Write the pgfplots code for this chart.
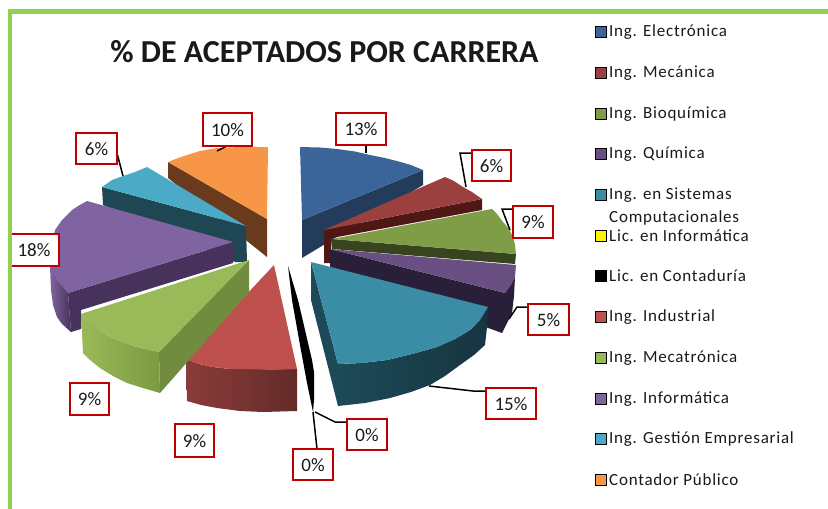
\documentclass[border=0pt]{standalone}
\usepackage{fontspec}
\setmainfont{Carlito}
\usepackage{pgfplots}
\pgfplotsset{compat=1.18}
\definecolor{frame}{HTML}{92D050}
\definecolor{lblred}{HTML}{C00000}
\definecolor{cBlue}{HTML}{3B6598}
\definecolor{cBlueD}{HTML}{233C5C}
\definecolor{cRed}{HTML}{9B403E}
\definecolor{cRedD}{HTML}{4F1815}
\definecolor{cGreen}{HTML}{7F9C47}
\definecolor{cGreenD}{HTML}{38431F}
\definecolor{cPur}{HTML}{6A4F82}
\definecolor{cPurD}{HTML}{2A1F38}
\definecolor{cTeal}{HTML}{3B8DA5}
\definecolor{cTealD}{HTML}{1D4A58}
\definecolor{cTealE}{HTML}{163540}
\definecolor{cInd}{HTML}{BE514E}
\definecolor{cIndL}{HTML}{8B3C3A}
\definecolor{cIndD}{HTML}{632B29}
\definecolor{cMeca}{HTML}{9AB958}
\definecolor{cMecaD}{HTML}{718B3F}
\definecolor{cMecaE}{HTML}{7C9A42}
\definecolor{cInf}{HTML}{8064A2}
\definecolor{cInfD}{HTML}{46325A}
\definecolor{cGes}{HTML}{4BAAC6}
\definecolor{cGesD}{HTML}{1F4653}
\definecolor{cCon}{HTML}{F79646}
\definecolor{cConD}{HTML}{693B1C}
\pgfplotsset{
  face/.style={draw=none,fill=#1,mark=none,forget plot},
  grad/.style 2 args={draw=none,left color=#1,right color=#2,mark=none,forget plot},
  leader/.style={draw=black,line width=1.5pt,mark=none,forget plot},
  lbl/.style={draw=lblred,line width=2.4pt,fill=white,mark=none,forget plot},
  key/.style={only marks,mark=square*,mark size=5.5pt,mark options={draw=none,fill=#1},forget plot},
}
\begin{document}
\begin{tikzpicture}
\begin{axis}[
  scale only axis, width=828pt, height=509pt,
  xmin=0, xmax=828, ymin=0, ymax=509, y dir=reverse,
  hide axis,
]
\path (axis cs:0,0) -- (axis cs:828,509);
% contador publico
\addplot[face=cConD] coordinates {(168,162) (267,219) (267,257) (168,178)} --cycle;
\addplot[face=cCon] coordinates {(168,162) (178,158) (187,155) (200,151) (217,148) (240,147) (268,147) (267,219)} --cycle;
% gestion empresarial
\addplot[face=cGesD] coordinates {(102,187) (246,226) (247,262) (235,262) (103,205)} --cycle;
\addplot[face=cGes] coordinates {(102,187) (112,180) (123,176) (135,172) (147,167) (246,226)} --cycle;
% ing informatica
\addplot[grad={cInf}{cInfD}] coordinates {(50,267) (68,293) (71,332) (62,324) (57,317) (53,305) (51,290)} --cycle;
\addplot[face=cInfD] coordinates {(68,293) (233,242) (233,263) (81,310) (81,329) (71,332)} --cycle;
\addplot[face=cInf] coordinates {(87,201) (78,206) (72,210) (62,220) (55,230) (51,248) (50,267) (57,280) (68,293) (233,242)} --cycle;
% electronica
\addplot[face=cBlueD] coordinates {(302,220) (423,170) (423,185) (302,258)} --cycle;
\addplot[face=cBlue] coordinates {(300,147) (320,147.5) (337,149) (355,151.5) (370,155) (385,158) (397,161) (411,165) (423,170) (302,220)} --cycle;
% mecanica
\addplot[face=cRedD] coordinates {(324,230) (482,199) (482,210) (332,238) (330,263) (324,263)} --cycle;
\addplot[face=cRed] coordinates {(324,230) (445,177) (454,181) (463,187) (472,192) (482,199)} --cycle;
% quimica
\addplot[face=cPurD] coordinates {(330,249) (505,293) (515,277) (514,296) (512,313) (502,333) (480,325) (330,270)} --cycle;
\addplot[face=cPur] coordinates {(330,249) (516,265) (515,277) (511,285) (505,293)} --cycle;
% bioquimica
\addplot[face=cGreenD] coordinates {(332,239) (332,249) (515,264) (516,254)} --cycle;
\addplot[face=cGreen] coordinates {(332,239) (492,209) (497,214) (503,222) (509,229) (513,237) (515,245) (516,254)} --cycle;
% sistemas
\addplot[face=cTealD] coordinates {(311,262) (338,364) (338,406) (311,300)} --cycle;
\addplot[grad={cTealD}{cTealE}] coordinates {(338,364) (362,363) (387,360) (412,354) (437,347) (455,339) (470,330) (480,320) (488,307) (487,327) (485,345) (474,355) (460,365) (445,376) (430,385) (411,392) (390,398) (365,403) (338,406)} --cycle;
\addplot[face=cTeal] coordinates {(311,262) (488,307) (480,320) (470,330) (455,339) (437,347) (412,354) (387,360) (362,363) (338,364)} --cycle;
% contaduria
\addplot[face=black] coordinates {(288,266) (298,300) (312,360) (314,372) (314,400) (313,412) (307,383) (300,345) (292,300)} --cycle;
% industrial
\addplot[grad={cIndL}{cIndD}] coordinates {(186,359) (199,364) (213,367) (230,369) (250,369) (297,369) (297,411) (263,412) (240,411) (217,408) (201,405) (187,401)} --cycle;
\addplot[face=cInd] coordinates {(274,265) (297,369) (272,370) (250,369) (230,369) (213,367) (199,364) (186,359)} --cycle;
% mecatronica
\addplot[face=cMecaD] coordinates {(249,260) (159,352) (160,393) (249,292)} --cycle;
\addplot[grad={cMeca}{cMecaE}] coordinates {(81,314) (88,321) (97,328) (107,335) (117,340) (137,347) (159,352) (160,393) (143,388) (127,383) (113,376) (100,368) (90,360) (83,353)} --cycle;
\addplot[face=cMeca] coordinates {(81,314) (249,260) (159,352) (137,347) (117,340) (107,335) (97,328) (88,321)} --cycle;

% lineas guia
\addplot[leader] coordinates {(366,145) (366,153)};
\addplot[leader] coordinates {(472,153) (460,153) (466,187)};
\addplot[leader] coordinates {(513,209) (502,209) (510,230)};
\addplot[leader] coordinates {(528,307) (517,307) (509,319)};
\addplot[leader] coordinates {(486,391) (473,391) (429,386)};
\addplot[leader] coordinates {(346,422) (335,422) (315,412)};
\addplot[leader] coordinates {(317,449) (313,412)};
\addplot[leader] coordinates {(117,153) (123,176)};
\addplot[leader] coordinates {(227,146) (217,151)};

% etiquetas
\addplot[lbl] coordinates {(203,113) (252,113) (252,146) (203,146)} --cycle;
\addplot[lbl] coordinates {(76,133) (117,133) (117,164) (76,164)} --cycle;
\addplot[lbl] coordinates {(10,234) (59,234) (59,266) (10,266)} --cycle;
\addplot[lbl] coordinates {(70,383) (109,383) (109,415) (70,415)} --cycle;
\addplot[lbl] coordinates {(336,113) (386,113) (386,145) (336,145)} --cycle;
\addplot[lbl] coordinates {(472,150) (511,150) (511,181) (472,181)} --cycle;
\addplot[lbl] coordinates {(513,206) (553,206) (553,238) (513,238)} --cycle;
\addplot[lbl] coordinates {(528,304) (569,304) (569,335) (528,335)} --cycle;
\addplot[lbl] coordinates {(486,388) (536,388) (536,419) (486,419)} --cycle;
\addplot[lbl] coordinates {(347,419) (387,419) (387,450) (347,450)} --cycle;
\addplot[lbl] coordinates {(293,449) (333,449) (333,480) (293,480)} --cycle;
\addplot[lbl] coordinates {(175,424) (214,424) (214,457) (175,457)} --cycle;

% marco
\addplot[draw=frame,line width=4.5pt,mark=none,forget plot] coordinates {(10,509) (10,11.5) (828,11.5)};

% leyenda
\addplot[key=cBlue] coordinates {(600.5,32)};
\addplot[key=cRed] coordinates {(600.5,73)};
\addplot[key=cGreen] coordinates {(600.5,114)};
\addplot[key=cPur] coordinates {(600.5,154)};
\addplot[key=cTeal] coordinates {(600.5,195)};
\addplot[key=yellow] coordinates {(600.5,236)};
\addplot[key=black] coordinates {(600.5,276)};
\addplot[key=cInd] coordinates {(600.5,317)};
\addplot[key=cMeca] coordinates {(600.5,358)};
\addplot[key=cInf] coordinates {(600.5,399)};
\addplot[key=cGes] coordinates {(600.5,439)};
\addplot[key=cCon] coordinates {(600.5,480)};

\node[font=\fontsize{32}{34}\selectfont\bfseries,text=black!90] at (axis cs:324.5,52) {\% DE ACEPTADOS POR CARRERA};

\begin{scope}[every node/.style={font=\fontsize{19}{21}\selectfont,text=black!90}]
\node at (axis cs:227.5,130) {10\%};
\node at (axis cs:96.5,149) {6\%};
\node at (axis cs:34,250) {18\%};
\node at (axis cs:89.5,399) {9\%};
\node at (axis cs:361,129) {13\%};
\node at (axis cs:491.5,166) {6\%};
\node at (axis cs:533,222) {9\%};
\node at (axis cs:548.5,320) {5\%};
\node at (axis cs:511,404) {15\%};
\node at (axis cs:367,435) {0\%};
\node at (axis cs:313,465) {0\%};
\node at (axis cs:194.5,441) {9\%};
\end{scope}

\begin{scope}[every node/.style={font=\fontsize{17}{19}\selectfont\addfontfeature{LetterSpace=4.5},text=black!90,anchor=west,inner sep=0pt}]
\node at (axis cs:609,32) {Ing. Electrónica};
\node at (axis cs:609,73) {Ing. Mecánica};
\node at (axis cs:609,114) {Ing. Bioquímica};
\node at (axis cs:609,154) {Ing. Química};
\node at (axis cs:609,195) {Ing. en Sistemas};
\node at (axis cs:609,218) {Computacionales};
\node at (axis cs:609,236) {Lic. en Informática};
\node at (axis cs:609,276) {Lic. en Contaduría};
\node at (axis cs:609,317) {Ing. Industrial};
\node at (axis cs:609,358) {Ing. Mecatrónica};
\node at (axis cs:609,399) {Ing. Informática};
\node at (axis cs:609,439) {Ing. Gestión Empresarial};
\node at (axis cs:609,480) {Contador Público};
\end{scope}
\end{axis}
\end{tikzpicture}
\end{document}
